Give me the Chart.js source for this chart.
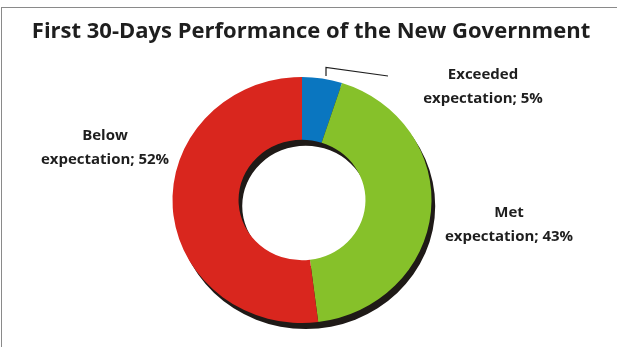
<!DOCTYPE html>
<html>
<head>
<meta charset="utf-8">
<script src="https://cdn.jsdelivr.net/npm/chart.js@4.4.1/dist/chart.umd.min.js"></script>
<style>
  body { margin: 0; background: #fff; }
  #wrap { position: relative; width: 617px; height: 347px; overflow: hidden; }
  #frame { position: absolute; left: 1px; top: 7px; width: 700px; height: 400px;
           border-left: 1px solid #8a8a8a; border-top: 1px solid #8a8a8a; }
  canvas { position: absolute; left: 0; top: 0; }
</style>
</head>
<body>
<div id="wrap">
  <div id="frame"></div>
  <canvas id="perf" width="617" height="347"></canvas>
</div>
<script>
/* First 30 days of the new government - survey result */
const categories = ["Exceeded expectation", "Met expectation", "Below expectation"];
const shares = [5, 43, 52];
const sliceColors = ["#0a76c0", "#86c12a", "#d9261e"];
const chartTitle = "First 30-Days Performance of the New Government";

// label blocks placed beside the ring (centre of each text block)
const labelSpots = [
  { x: 483, y: 87, lines: ["Exceeded", "expectation; " + shares[0] + "%"] },
  { x: 509, y: 225, lines: ["Met", "expectation; " + shares[1] + "%"] },
  { x: 105, y: 148, lines: ["Below", "expectation; " + shares[2] + "%"] },
];

const decor = {
  id: "decor",
  beforeDatasetsDraw(chart, args, opts) {
    const ctx = chart.ctx;
    const arc = chart.getDatasetMeta(0).data[0];
    const { x, y, outerRadius, innerRadius } = arc.getProps(["x", "y", "outerRadius", "innerRadius"], true);
    ctx.save();
    // ring is a little wider than tall
    ctx.translate(x, y);
    ctx.scale(opts.stretch, 1);
    ctx.translate(-x, -y);
    // flat drop shadow under the whole ring
    ctx.beginPath();
    ctx.arc(x + opts.shadowX, y + opts.shadowY, outerRadius, 0, Math.PI * 2);
    ctx.arc(x + opts.shadowX, y + opts.shadowY, innerRadius, 0, Math.PI * 2, true);
    ctx.fillStyle = "#1f1a17";
    ctx.fill("evenodd");
  },
  afterDatasetsDraw(chart) {
    chart.ctx.restore();
  },
  afterDraw(chart) {
    const ctx = chart.ctx;
    ctx.save();
    ctx.fillStyle = "#1e1e1e";
    ctx.textAlign = "center";
    ctx.textBaseline = "middle";
    ctx.font = "bold 22px 'Open Sans'";
    ctx.fillText(chartTitle, 311, 32);

    ctx.font = "bold 15px 'Open Sans'";
    labelSpots.forEach(s => {
      ctx.fillText(s.lines[0], s.x, s.y - 12);
      ctx.fillText(s.lines[1], s.x, s.y + 12);
    });

    // leader line to the small slice
    ctx.strokeStyle = "#1e1e1e";
    ctx.lineWidth = 1.2;
    ctx.beginPath();
    ctx.moveTo(326, 76);
    ctx.lineTo(326, 67.5);
    ctx.lineTo(388, 76);
    ctx.stroke();
    ctx.restore();
  }
};

new Chart(document.getElementById("perf"), {
  type: "doughnut",
  data: {
    labels: categories,
    datasets: [
      {
        data: shares,
        backgroundColor: sliceColors,
        borderWidth: 0,
      },
    ],
  },
  options: {
    responsive: false,
    animation: false,
    cutout: "49%",
    layout: {
      padding: { left: 179, right: 192, top: 77, bottom: 24 },
    },
    plugins: {
      legend: { display: false },
      tooltip: { enabled: false },
      decor: { stretch: 1.053, shadowX: 3.5, shadowY: 6 },
    },
  },
  plugins: [decor],
});
</script>
</body>
</html>
